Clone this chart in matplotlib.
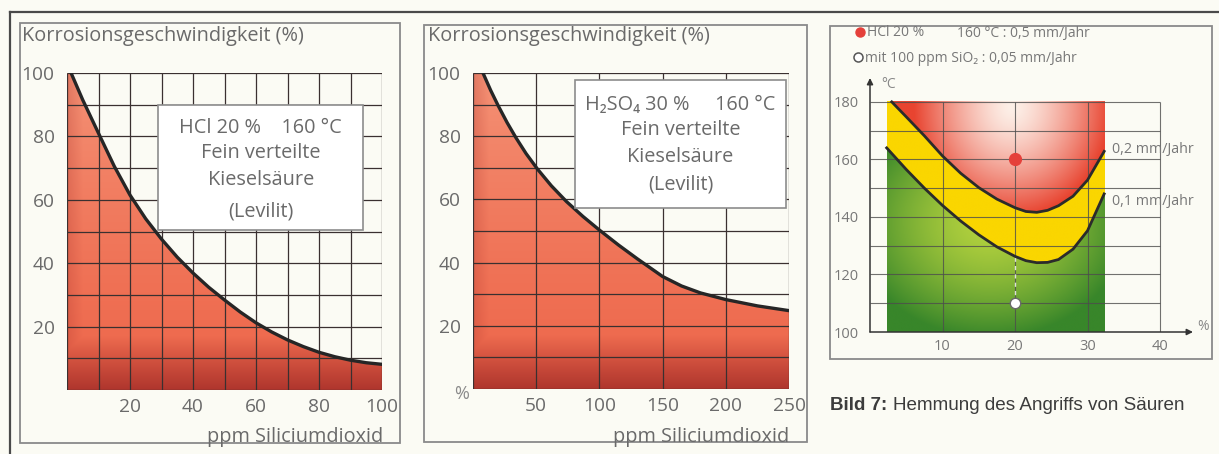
import numpy as np
import matplotlib
matplotlib.use('Agg')
import matplotlib.pyplot as plt
from matplotlib.patches import Rectangle

W, H = 1219, 454
FONT = ['Open Sans', 'DejaVu Sans']
GREY = '#6a6a6a'
BG = '#fbfbf4'

plt.rcParams['font.family'] = FONT

# left chart: HCl 20 %, 160 degC
hcl_ppm = [0, 1.3, 5, 10, 15, 20, 25, 30, 35, 40, 45, 50, 55, 60, 65, 70, 75, 80, 85, 90, 95, 100]
hcl_rate = [100, 100, 91.5, 81, 70.6, 61.5, 54, 47.6, 41.9, 36.9, 32.4, 28.4, 24.6, 21.2, 18.3,
            15.8, 13.7, 11.9, 10.5, 9.4, 8.6, 8.1]
hcl_xticks = [20, 40, 60, 80, 100]

# middle chart: H2SO4 30 %, 160 degC
h2so4_ppm = [0, 7.9, 14, 20, 27, 34, 42, 51, 62, 74, 87, 100, 115, 130, 150, 165, 180, 200, 225, 250]
h2so4_rate = [100, 100, 94.5, 89.6, 84.3, 79.5, 74.5, 69.6, 64.3, 59.3, 54.6, 50.3, 45.6, 41.2,
              35.6, 32.6, 30.4, 28.3, 26.3, 24.8]
h2so4_xticks = [50, 100, 150, 200, 250]
rate_ticks = [20, 40, 60, 80, 100]

# right chart: iso-corrosion lines (concentration % vs temperature degC)
conc_02 = [3, 5, 7.5, 10, 12.5, 15, 17.5, 20, 21.5, 23, 24.5, 26, 28, 30, 32.3]
temp_02 = [180, 174.8, 168.2, 161.2, 155.2, 150.2, 146.2, 143.2, 141.9, 141.6, 142.3, 143.9,
           147.2, 152.8, 162.8]
conc_01 = [2.3, 5, 7.5, 10, 12.5, 15, 17.5, 20, 21.5, 23, 24.5, 26, 28, 30, 32.3]
temp_01 = [164, 156.5, 150, 144, 138.6, 133.8, 129.6, 126.3, 124.8, 124.1, 124.2, 125.2,
           128.8, 135.2, 148]
band_conc = (2.3, 32.3)
band_temp = (100, 180)
temp_ticks = [100, 120, 140, 160, 180]
conc_ticks = [10, 20, 30, 40]
hcl_point = (20, 160)
sio2_point = (20, 110)


def px_axes(fig, x0, y0, x1, y1):
    ax = fig.add_axes([x0 / W, 1 - y1 / H, (x1 - x0) / W, (y1 - y0) / H])
    ax.set_facecolor('none')
    return ax


def mix(c1, c2, t):
    c1 = np.array(c1, float) / 255
    c2 = np.array(c2, float) / 255
    t = np.clip(t, 0, 1)[..., None]
    return c1 * (1 - t) + c2 * t


def red_image(n=300):
    yy, xx = np.mgrid[0:1:n * 1j, 0:1:n * 1j]
    img = mix((238, 104, 76), (245, 150, 122), 0.9 * yy ** 1.4)
    dark = np.clip((0.17 - yy) / 0.17, 0, 1) ** 1.0 * 0.9
    dark = np.maximum(dark, 0.25 * np.clip((0.05 - xx) / 0.05, 0, 1))
    img = img * (1 - dark[..., None]) + mix((168, 48, 42), (168, 48, 42), dark) * dark[..., None]
    return img


def corrosion_panel(fig, rect, ppm, rate, xmax, xstep, xticks, box, lines):
    ax = px_axes(fig, *rect)
    ax.set_xlim(0, xmax)
    ax.set_ylim(0, 100)
    for s in ax.spines.values():
        s.set_visible(False)

    coll = ax.fill_between(ppm, rate, 0, color='none', lw=0)
    im = ax.imshow(red_image(), extent=[0, xmax, 0, 100], origin='lower',
                   aspect='auto', interpolation='bilinear', zorder=1)
    im.set_clip_path(coll.get_paths()[0], transform=ax.transData)

    ax.vlines(np.arange(0, xmax + 1, xstep), 0, 100, color='#3a3030', lw=0.9, zorder=2)
    ax.hlines(np.arange(0, 101, 10), 0, xmax, color='#3a3030', lw=0.9, zorder=2)
    ax.plot(ppm[1:], rate[1:], color='#262626', lw=2.4, zorder=3, solid_capstyle='round')

    bx0, bx1, by0, by1 = box
    ax.add_patch(Rectangle((bx0, by0), bx1 - bx0, by1 - by0, facecolor='white',
                           edgecolor='#8c8c8c', lw=1.2, zorder=4))
    for (ty, txt) in lines:
        ax.text((bx0 + bx1) / 2, ty, txt, ha='center', va='center', fontsize=14.3,
                color=GREY, zorder=5)

    ax.set_xticks(xticks)
    ax.set_yticks(rate_ticks)
    ax.tick_params(length=0, labelsize=13.8, labelcolor=GREY)
    ax.tick_params(axis='y', pad=9)
    ax.tick_params(axis='x', pad=6)
    return ax


fig = plt.figure(figsize=(W / 100, H / 100), dpi=100, facecolor=BG)

bg = fig.add_axes([0, 0, 1, 1])
bg.set_xlim(0, W)
bg.set_ylim(H, 0)
bg.axis('off')
bg.plot([10, W], [12, 12], color='#4a4a4a', lw=1.6)
bg.plot([10, 10], [12, H], color='#4a4a4a', lw=1.6)
for (x0, y0, x1, y1) in [(20, 23, 400, 443), (424, 25, 807, 442), (830, 26, 1212, 359)]:
    bg.add_patch(Rectangle((x0, y0), x1 - x0, y1 - y0, facecolor='none',
                           edgecolor='#8a8a8a', lw=1.3))

# left chart
corrosion_panel(fig, (67, 73, 382, 390), hcl_ppm, hcl_rate, 100, 10, hcl_xticks,
                (29, 94, 50.5, 90),
                [(82.6, 'HCl 20 %    160 °C'), (74.8, 'Fein verteilte'),
                 (66.2, 'Kieselsäure'), (56.2, '(Levilit)')])
bg.text(22, 36, 'Korrosionsgeschwindigkeit (%)', fontsize=14.3, color=GREY, va='center')
bg.text(383, 437, 'ppm Siliciumdioxid', fontsize=14.3, color=GREY, va='center', ha='right')

# middle chart
corrosion_panel(fig, (473, 73, 789, 389), h2so4_ppm, h2so4_rate, 250, 50, h2so4_xticks,
                (80.7, 247.6, 57.3, 97.8),
                [(89.9, 'H₂SO₄ 30 %     160 °C'), (82, 'Fein verteilte'),
                 (73.4, 'Kieselsäure'), (64.6, '(Levilit)')])
bg.text(428, 36, 'Korrosionsgeschwindigkeit (%)', fontsize=14.3, color=GREY, va='center')
bg.text(789, 437, 'ppm Siliciumdioxid', fontsize=14.3, color=GREY, va='center', ha='right')
bg.text(469, 394, '%', fontsize=13, color='#8a8a8a', va='center', ha='right')

# right chart
ax3 = px_axes(fig, 870, 78, 1193, 332)
ax3.set_xlim(0, 44.55)
ax3.set_ylim(100, 188.3)
for s in ax3.spines.values():
    s.set_visible(False)

n = 500
X, Y = np.meshgrid(np.linspace(band_conc[0], band_conc[1], n), np.linspace(band_temp[0], band_temp[1], n))
up = np.interp(X, conc_02, temp_02)
lo = np.interp(X, conc_01, temp_01)
r_red = np.sqrt(((X - 19.5) / 13.5) ** 2 + ((Y - 178) / 38) ** 2)
red = mix((253, 240, 232), (232, 68, 48), np.clip(r_red, 0, 1) ** 1.4)
r_grn = np.sqrt(((X - 16.5) / 19) ** 2 + ((Y - 138) / 40) ** 2)
green = mix((180, 210, 62), (56, 134, 42), np.clip(r_grn, 0, 1) ** 1.5)
yellow = mix((250, 214, 0), (250, 214, 0), np.zeros_like(X))
img = np.where((Y > up)[..., None], red, np.where((Y > lo)[..., None], yellow, green))
ax3.imshow(img, extent=[band_conc[0], band_conc[1], band_temp[0], band_temp[1]], origin='lower',
           aspect='auto', interpolation='bilinear', zorder=1)

ax3.hlines(np.arange(110, 181, 10), 0, 40, color='#4d4d4d', lw=0.8, alpha=0.8, zorder=2)
ax3.vlines(conc_ticks, 100, 180, color='#4d4d4d', lw=0.8, alpha=0.8, zorder=2)
ax3.plot([sio2_point[0]] * 2, [sio2_point[1], np.interp(sio2_point[0], conc_01, temp_01)],
         color='white', lw=1, ls=(0, (3, 3)), alpha=0.8, zorder=2.5)
ax3.plot(conc_02, temp_02, color='#2b2b2b', lw=2, zorder=3)
ax3.plot(conc_01, temp_01, color='#2b2b2b', lw=2, zorder=3)
ax3.plot(*hcl_point, 'o', ms=8.5, color='#e5403a', mec='#e5403a', zorder=4)
ax3.plot(*sio2_point, 'o', ms=7.5, color='white', mec='#6a6a6a', mew=1, zorder=4)

ax3.annotate('', xy=(0, 188.3), xytext=(0, 100),
             arrowprops=dict(arrowstyle='-|>', color='#333333', lw=1.1, mutation_scale=9,
                             shrinkA=0, shrinkB=0), annotation_clip=False)
ax3.annotate('', xy=(44.55, 100), xytext=(0, 100),
             arrowprops=dict(arrowstyle='-|>', color='#333333', lw=1.1, mutation_scale=9,
                             shrinkA=0, shrinkB=0), annotation_clip=False)
ax3.set_xticks(conc_ticks)
ax3.set_yticks(temp_ticks)
ax3.tick_params(length=0, labelsize=10.5, labelcolor='#777777')
ax3.tick_params(axis='y', pad=8)
ax3.tick_params(axis='x', pad=5)
ax3.text(33.4, 163.4, '0,2 mm/Jahr', fontsize=10.3, color='#777777', va='center')
ax3.text(33.4, 145.3, '0,1 mm/Jahr', fontsize=10.3, color='#777777', va='center')

bg.text(881, 85, '°C', fontsize=10, color='#888888', va='center')
bg.text(1197, 327, '%', fontsize=10, color='#888888', va='center')
bg.plot(860, 32, 'o', ms=6.5, color='#e5403a')
bg.text(867, 33, 'HCl 20 %', fontsize=10, color='#777777', va='center')
bg.text(957, 33, '160 °C : 0,5 mm/Jahr', fontsize=10, color='#777777', va='center')
bg.plot(858, 57, 'o', ms=6.5, color='white', mec='#555555', mew=1.1)
bg.text(865, 58, 'mit 100 ppm SiO₂ : 0,05 mm/Jahr', fontsize=10, color='#777777', va='center')

bg.text(830, 405, 'Bild 7:', fontsize=13.5, color='#3c3c3c', fontweight='bold',
        family='Liberation Sans', va='center')
bg.text(893, 405, 'Hemmung des Angriffs von Säuren', fontsize=13.6, color='#3c3c3c',
        family='Liberation Sans', va='center')

fig.savefig('out.png', dpi=100, facecolor=BG)
